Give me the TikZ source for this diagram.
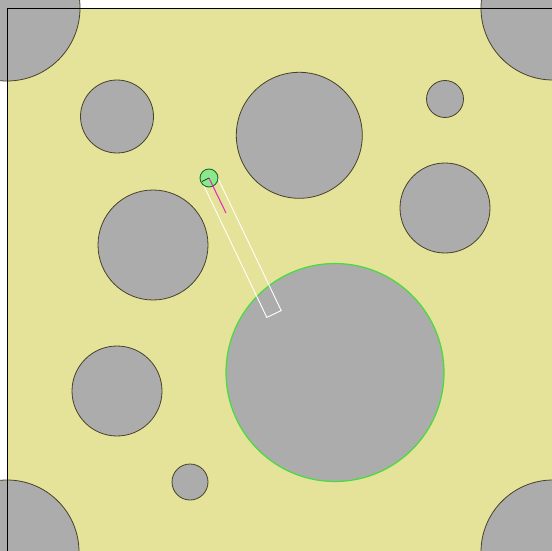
\documentclass[tikz,border=0pt]{standalone}
\definecolor{field}{RGB}{229,226,154}
\definecolor{obst}{RGB}{172,172,172}
\definecolor{rim}{RGB}{70,66,40}
\definecolor{goal}{RGB}{70,220,60}
\definecolor{bot}{RGB}{140,232,140}
\definecolor{botrim}{RGB}{30,110,40}
\definecolor{ray}{RGB}{225,40,190}
\tikzset{
  obstacle/.style={fill=obst,draw=rim,line width=0.8pt},
  target/.style={fill=obst,draw=goal,line width=1.2pt},
  robot/.style={fill=bot,draw=botrim,line width=0.9pt},
  sensor/.style={draw=white,line width=0.9pt},
}
\begin{document}
\begin{tikzpicture}[x=1pt,y=-1pt]
\useasboundingbox (0,0) rectangle (552,551);
\fill[white] (0,0) rectangle (552,551);
\begin{scope}
\clip (0,0) rectangle (552,551);
\fill[field] (7,8) rectangle (553,552);
% corner obstacles
\draw[obstacle] (7,8) circle (73);
\draw[obstacle] (553,8) circle (72);
\draw[obstacle] (7,552) circle (72);
\draw[obstacle] (553,552) circle (72);
\draw[black,line width=0.9pt] (7,8) rectangle (553,552);
\end{scope}
% interior obstacles
\draw[obstacle] (117,116.5) circle (36.5);
\draw[obstacle] (299.3,135.3) circle (63);
\draw[obstacle] (445,99) circle (18.5);
\draw[obstacle] (445,208) circle (45);
\draw[obstacle] (153,245) circle (55);
\draw[obstacle] (117,391) circle (45);
\draw[obstacle] (190,482) circle (18);
\draw[target] (335,372.5) circle (109);
% sensor rectangle
\coordinate (c) at (209,178);
\draw[sensor] (216.2,174.6) -- (281.2,310.6) -- (266.8,317.4) -- (201.8,181.4) -- cycle;
% robot
\draw[robot] (c) circle (9);
\draw[ray,line width=1pt] (c) -- (226,213);
\draw[black!80,line width=0.7pt] (c) -- (202,181.5);
\end{tikzpicture}
\end{document}
